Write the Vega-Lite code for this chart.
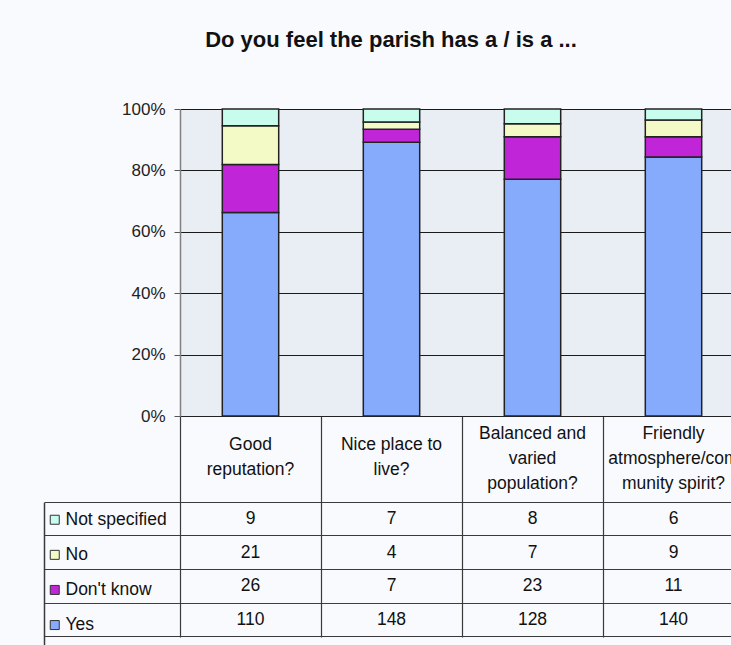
{
  "$schema": "https://vega.github.io/schema/vega-lite/v6.json",
  "width": 551,
  "height": 307,
  "autosize": {"type": "none"},
  "padding": {"left": 180, "top": 109, "right": 0, "bottom": 229},
  "background": "#F9FAFE",
  "config": {"font": "Liberation Sans", "view": {"stroke": null, "fill": "#E9EDF4"}},
  "title": {"text": "Do you feel the parish has a / is a ...", "fontSize": 22, "fontWeight": "bold", "color": "#111111", "anchor": "middle", "dx": -64.5, "offset": 48, "font": "Liberation Sans"},
  "data": {"values": [
    {"question": "Good reputation?", "response": "Yes", "count": 110, "stack_rank": 1},
    {"question": "Good reputation?", "response": "Don't know", "count": 26, "stack_rank": 2},
    {"question": "Good reputation?", "response": "No", "count": 21, "stack_rank": 3},
    {"question": "Good reputation?", "response": "Not specified", "count": 9, "stack_rank": 4},
    {"question": "Nice place to live?", "response": "Yes", "count": 148, "stack_rank": 1},
    {"question": "Nice place to live?", "response": "Don't know", "count": 7, "stack_rank": 2},
    {"question": "Nice place to live?", "response": "No", "count": 4, "stack_rank": 3},
    {"question": "Nice place to live?", "response": "Not specified", "count": 7, "stack_rank": 4},
    {"question": "Balanced and varied population?", "response": "Yes", "count": 128, "stack_rank": 1},
    {"question": "Balanced and varied population?", "response": "Don't know", "count": 23, "stack_rank": 2},
    {"question": "Balanced and varied population?", "response": "No", "count": 7, "stack_rank": 3},
    {"question": "Balanced and varied population?", "response": "Not specified", "count": 8, "stack_rank": 4},
    {"question": "Friendly atmosphere/community spirit?", "response": "Yes", "count": 140, "stack_rank": 1},
    {"question": "Friendly atmosphere/community spirit?", "response": "Don't know", "count": 11, "stack_rank": 2},
    {"question": "Friendly atmosphere/community spirit?", "response": "No", "count": 9, "stack_rank": 3},
    {"question": "Friendly atmosphere/community spirit?", "response": "Not specified", "count": 6, "stack_rank": 4}
  ]},
  "layer": [
    {
      "mark": {"type": "bar", "width": {"band": 0.4}, "stroke": "#222222", "strokeWidth": 1.5},
      "encoding": {
        "x": {
          "field": "question", "type": "nominal",
          "sort": ["Good reputation?", "Nice place to live?", "Balanced and varied population?", "Friendly atmosphere/community spirit?"],
          "scale": {"range": [0, 564], "paddingInner": 0, "paddingOuter": 0},
          "axis": {
            "orient": "bottom", "title": null, "bandPosition": 0, "ticks": true, "tickSize": 221, "tickColor": "#3a3a3a", "tickWidth": 1.2,
            "domain": true, "domainColor": "#222222", "domainWidth": 1.2, "grid": false,
            "labelExpr": "datum.value == 'Good reputation?' ? ['Good', 'reputation?'] : datum.value == 'Nice place to live?' ? ['Nice place to', 'live?'] : datum.value == 'Balanced and varied population?' ? ['Balanced and', 'varied', 'population?'] : ['Friendly', 'atmosphere/com', 'munity spirit?']",
            "labelFontSize": 17.5, "labelColor": "#111111", "labelLineHeight": 25, "labelBaseline": "middle", "labelAlign": "center", "labelAngle": 0,
            "labelPadding": {"condition": {"test": "datum.value == 'Balanced and varied population?' || datum.value == 'Friendly atmosphere/community spirit?'", "value": -204}, "value": -193},
            "labelOverlap": false, "labelLimit": 400
          }
        },
        "y": {
          "field": "count", "type": "quantitative", "stack": "normalize",
          "scale": {"domain": [0, 1]},
          "axis": {
            "orient": "left", "title": null, "values": [0, 0.2, 0.4, 0.6, 0.8, 1], "format": ".0%",
            "grid": true, "gridColor": "#1a1a1a", "gridWidth": 1, "tickSize": 6, "tickColor": "#555555",
            "domainColor": "#808080", "domainWidth": 1.5, "labelFontSize": 17, "labelColor": "#222222", "labelPadding": 9
          }
        },
        "color": {
          "field": "response", "type": "nominal",
          "scale": {"domain": ["Not specified", "No", "Don't know", "Yes"], "range": ["#C8FCEC", "#F4FAC6", "#C026D8", "#86ABFC"]},
          "legend": {
            "orient": "none", "legendX": -134, "legendY": 402, "title": null, "symbolType": "square", "symbolSize": 81,
            "symbolStrokeColor": "#333333", "symbolStrokeWidth": 1, "symbolOpacity": 1, "labelFontSize": 17.5, "labelColor": "#111111",
            "labelOffset": 2, "rowPadding": 16.1, "padding": 0
          }
        },
        "order": {"field": "stack_rank", "type": "quantitative"}
      }
    },
    {
      "mark": {"type": "text", "fontSize": 17.5, "color": "#111111"},
      "encoding": {
        "x": {"field": "question", "type": "nominal", "sort": ["Good reputation?", "Nice place to live?", "Balanced and varied population?", "Friendly atmosphere/community spirit?"]},
        "y": {
          "field": "response", "type": "nominal",
          "scale": {"type": "band", "domain": ["Not specified", "No", "Don't know", "Yes", "end"], "range": [393.3, 561.3], "paddingInner": 0, "paddingOuter": 0},
          "axis": {
            "orient": "left", "title": null, "offset": 136, "tickSize": -136, "bandPosition": 0, "labels": false,
            "grid": true,
            "gridColor": {"condition": {"test": "datum.value === 'Yes'", "value": "#5a2a66"}, "value": "#3a3a3a"},
            "tickColor": {"condition": {"test": "datum.value === 'Yes'", "value": "#5a2a66"}, "value": "#3a3a3a"},
            "gridWidth": 1.2, "tickWidth": 1.2, "domain": true, "domainColor": "#3a3a3a", "domainWidth": 1.5
          }
        },
        "text": {"field": "count", "type": "quantitative"}
      }
    }
  ],
  "resolve": {"scale": {"y": "independent"}, "axis": {"y": "independent"}}
}
